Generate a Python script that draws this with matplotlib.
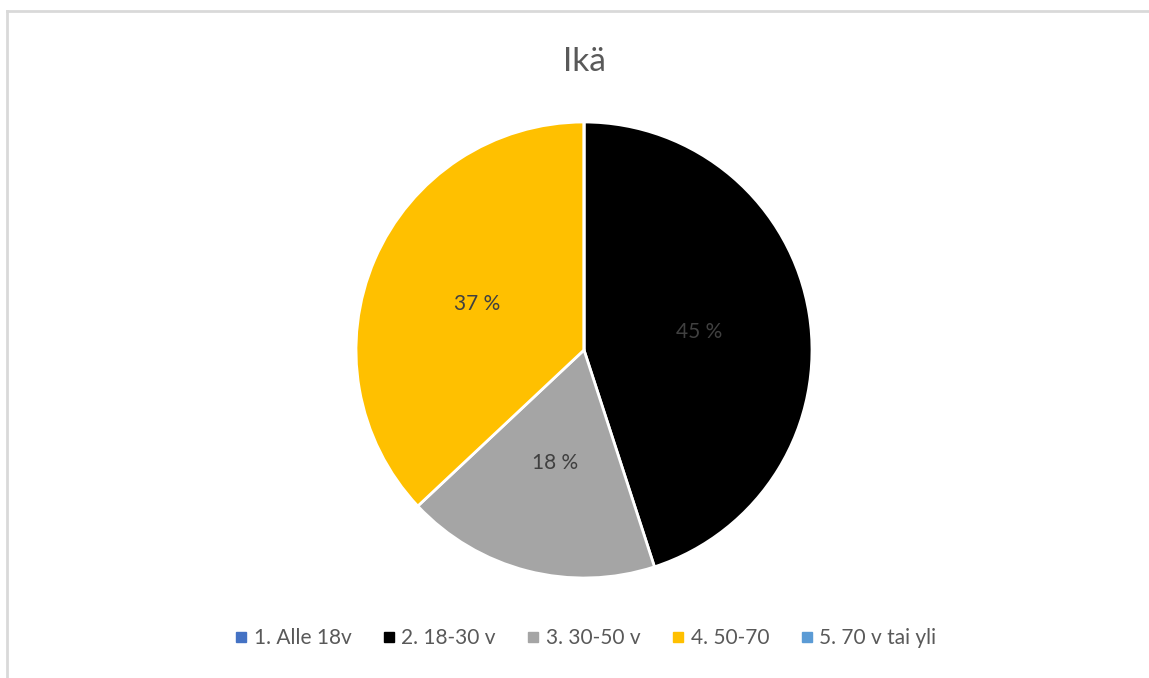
import matplotlib
matplotlib.use('Agg')
import matplotlib.pyplot as plt
from matplotlib.lines import Line2D

plt.rcParams['font.family'] = ['Lato', 'DejaVu Sans']

#---------- data ----------
categories = ['1. Alle 18v', '2. 18-30 v', '3. 30-50 v', '4. 50-70', '5. 70 v tai yli']
values = [0, 45, 18, 37, 0]
colors = ['#4472C4', '#000000', '#A5A5A5', '#FFC000', '#5B9BD5']
title = 'Ikä'

#---------- figure ----------
W, H = 1149, 678
fig = plt.figure(figsize=(W/100, H/100), dpi=100)
fig.patch.set_facecolor('white')

# light border on top and left
fig.add_artist(Line2D([7/W, 7/W], [0, 1-11/H], transform=fig.transFigure,
                      color='#D9D9D9', lw=2))
fig.add_artist(Line2D([7/W, 1], [1-11/H, 1-11/H], transform=fig.transFigure,
                      color='#D9D9D9', lw=2))

cx, cy, r = 584, 350, 228
ax = fig.add_axes([(cx-r)/W, (H-cy-r)/H, 2*r/W, 2*r/H])

def fmt(p):
    return '%d %%' % round(p) if p > 0.5 else ''

wedges, texts, autotexts = ax.pie(values, colors=colors, startangle=90, counterclock=False,
                                  autopct=fmt, pctdistance=0.51,
                                  wedgeprops=dict(edgecolor='white', linewidth=2),
                                  textprops=dict(color='#404040', fontsize=15))
ax.set_xlim(-1, 1)
ax.set_ylim(-1, 1)
ax.set_aspect('equal')
ax.axis('off')

fig.text(cx/W, 1-62/H, title, ha='center', va='center', fontsize=24, color='#595959')

handles = [Line2D([], [], marker='s', ls='none', color=c, markersize=6.5) for c in colors]
fig.legend(handles, categories, loc='center', bbox_to_anchor=(586/W, 1-638/H), ncol=5,
           frameon=False, fontsize=15, labelcolor='#595959', handlelength=0.5,
           handletextpad=0.35, columnspacing=1.55)

fig.savefig('out.png', dpi=100, facecolor='white')
